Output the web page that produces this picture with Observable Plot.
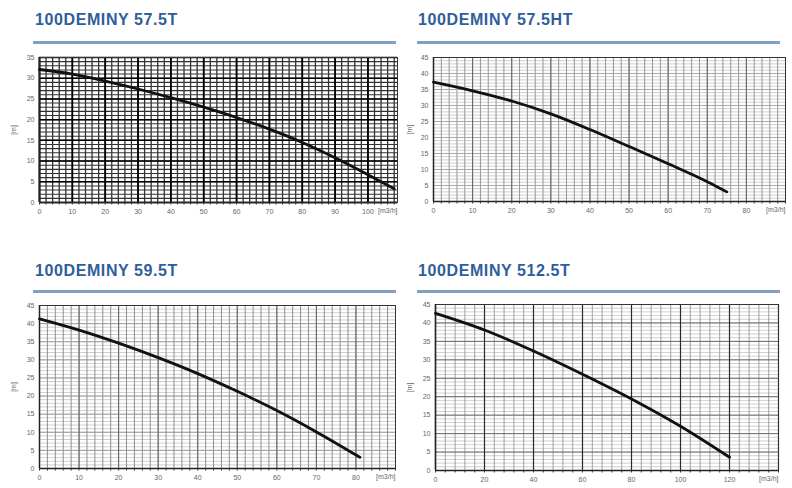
<!DOCTYPE html>
<html><head><meta charset="utf-8">
<script src="https://cdn.jsdelivr.net/npm/d3@7"></script>
<script src="https://cdn.jsdelivr.net/npm/@observablehq/plot@0.6"></script>
<style>
html,body{margin:0;padding:0;background:#fff}
body{width:792px;height:488px;position:relative;overflow:hidden;font-family:"Liberation Sans",Arial,sans-serif}
.title{position:absolute;font-weight:bold;font-size:16px;line-height:16px;letter-spacing:0.6px;color:#2f5e9c;white-space:nowrap}
.rule{position:absolute;height:3px;background:#809fc1}
.panel{position:absolute}
.panel svg{display:block}
</style></head><body>
<script>
// ---- data ----
const panelTitles = ["100DEMINY 57.5T", "100DEMINY 57.5HT", "100DEMINY 59.5T", "100DEMINY 512.5T"];

const flow575T = [0, 10, 20, 30, 40, 50, 60, 70, 80, 90, 100, 108];
const head575T = [32.1, 31.0, 29.3, 27.4, 25.3, 23.0, 20.5, 17.7, 14.5, 10.8, 6.7, 3.3];

const flow575HT = [0, 10, 20, 30, 40, 50, 60, 70, 75];
const head575HT = [37.3, 34.6, 31.4, 27.4, 22.5, 17.2, 11.8, 6.2, 3.0];

const flow595T = [0, 10, 20, 30, 40, 50, 60, 70, 81];
const head595T = [41.3, 38.2, 34.6, 30.6, 26.2, 21.3, 16.0, 10.1, 3.1];

const flow5125T = [0, 20, 40, 60, 80, 100, 120];
const head5125T = [42.6, 38.1, 32.4, 26.1, 19.4, 12.0, 3.6];

const xTicks575T = [0, 10, 20, 30, 40, 50, 60, 70, 80, 90, 100];
const yTicks575T = [0, 5, 10, 15, 20, 25, 30, 35];
const xTicks575HT = [0, 10, 20, 30, 40, 50, 60, 70, 80];
const xTicks595T = [0, 10, 20, 30, 40, 50, 60, 70, 80];
const xTicks5125T = [0, 20, 40, 60, 80, 100, 120];
const yTicks45 = [0, 5, 10, 15, 20, 25, 30, 35, 40, 45];

const yLabel = "[m]";
const xLabel = "[m3/h]";

// ---- layout / style ----
const panels = [
  {title: panelTitles[0], flow: flow575T, head: head575T, xTicks: xTicks575T, yTicks: yTicks575T,
   left: 0, top: 45, w: 400, h: 185, mL: 39, mR: 3, mT: 12, mB: 28, xMax: 109, yMax: 35,
   minorXStep: 2, majorXStep: 10, minorYStep: 1, majorYStep: 5,
   minorX: {stroke: "#333", w: 1.3}, majorX: {stroke: "#000", w: 1.8},
   minorY: {stroke: "#333", w: 1.1}, majorY: {stroke: "#000", w: 1.5},
   titleX: 35, titleY: 12, ruleX: 33, ruleW: 363, ruleY: 41},
  {title: panelTitles[1], flow: flow575HT, head: head575HT, xTicks: xTicks575HT, yTicks: yTicks45,
   left: 396, top: 45, w: 396, h: 185, mL: 37, mR: 7, mT: 12, mB: 29, xMax: 90, yMax: 45,
   minorXStep: 2, majorXStep: 10, minorYStep: 1, majorYStep: 5,
   minorX: {stroke: "#8a8a8a", w: 0.9}, majorX: {stroke: "#666", w: 1},
   minorY: {stroke: "#c6c0c0", w: 0.8}, majorY: {stroke: "#a8a2a2", w: 0.9},
   titleX: 418, titleY: 12, ruleX: 417, ruleW: 363, ruleY: 41},
  {title: panelTitles[2], flow: flow595T, head: head595T, xTicks: xTicks595T, yTicks: yTicks45,
   left: 0, top: 293, w: 400, h: 195, mL: 39, mR: 5, mT: 12, mB: 20, xMax: 90, yMax: 45,
   minorXStep: 2, majorXStep: 10, minorYStep: 1, majorYStep: 5,
   minorX: {stroke: "#858585", w: 0.9}, majorX: {stroke: "#666", w: 1},
   minorY: {stroke: "#c2c2c2", w: 0.8}, majorY: {stroke: "#999", w: 0.9},
   titleX: 35, titleY: 263, ruleX: 33, ruleW: 363, ruleY: 290},
  {title: panelTitles[3], flow: flow5125T, head: head5125T, xTicks: xTicks5125T, yTicks: yTicks45,
   left: 396, top: 293, w: 396, h: 195, mL: 39, mR: 14, mT: 11, mB: 18, xMax: 140, yMax: 45,
   minorXStep: 4, majorXStep: 20, minorYStep: 1, majorYStep: 5,
   minorX: {stroke: "#8a8a8a", w: 0.8}, majorX: {stroke: "#2a2a2a", w: 1.2},
   minorY: {stroke: "#c4c4c4", w: 0.8}, majorY: {stroke: "#6a6a6a", w: 1},
   titleX: 418, titleY: 263, ruleX: 417, ruleW: 363, ruleY: 290}
];

for (const p of panels) {
  const t = document.createElement("div");
  t.className = "title"; t.textContent = p.title;
  t.style.left = p.titleX + "px"; t.style.top = p.titleY + "px";
  document.body.appendChild(t);
  const r = document.createElement("div");
  r.className = "rule";
  r.style.left = p.ruleX + "px"; r.style.top = p.ruleY + "px"; r.style.width = p.ruleW + "px";
  document.body.appendChild(r);

  const data = p.flow.map((q, i) => ({q, h: p.head[i]}));
  const minorXs = d3.range(0, p.xMax + 1e-6, p.minorXStep);
  const majorXs = d3.range(0, p.xMax + 1e-6, p.majorXStep);
  const minorYs = d3.range(0, p.yMax + 1e-6, p.minorYStep);
  const majorYs = d3.range(0, p.yMax + 1e-6, p.majorYStep);

  const chart = Plot.plot({
    width: p.w, height: p.h,
    marginLeft: p.mL, marginRight: p.mR, marginTop: p.mT, marginBottom: p.mB,
    style: {fontFamily: "'Liberation Sans', Arial, sans-serif", fontSize: "7px", color: "#666", background: "transparent"},
    x: {domain: [0, p.xMax], label: null},
    y: {domain: [0, p.yMax], label: null},
    marks: [
      Plot.gridY(minorYs, {stroke: p.minorY.stroke, strokeOpacity: 1, strokeWidth: p.minorY.w}),
      Plot.gridX(minorXs, {stroke: p.minorX.stroke, strokeOpacity: 1, strokeWidth: p.minorX.w}),
      Plot.gridY(majorYs, {stroke: p.majorY.stroke, strokeOpacity: 1, strokeWidth: p.majorY.w}),
      Plot.gridX(majorXs, {stroke: p.majorX.stroke, strokeOpacity: 1, strokeWidth: p.majorX.w}),
      Plot.frame({stroke: "#333", strokeWidth: 1}),
      Plot.ruleY([0], {stroke: "#222", strokeWidth: 1.5}),
      Plot.ruleX([0], {stroke: "#222", strokeWidth: 1.5}),
      Plot.axisY(p.yTicks, {tickSize: 0, tickPadding: 5, label: yLabel, labelAnchor: "center", labelArrow: "none", labelOffset: p.mL - 11, fill: "#666"}),
      Plot.axisX(minorXs, {tickSize: 2.5, tickFormat: () => "", stroke: "#333", label: null}),
      Plot.axisX(p.xTicks, {tickSize: 0, tickPadding: 7, label: null, fill: "#666"}),
      Plot.text([xLabel], {frameAnchor: "bottom-right", text: d => d, dy: 10, textAnchor: "end", fill: "#666"}),
      Plot.line(data, {x: "q", y: "h", curve: "monotone-x", stroke: "#111", strokeWidth: 2.8})
    ]
  });
  const holder = document.createElement("div");
  holder.className = "panel";
  holder.style.left = p.left + "px"; holder.style.top = p.top + "px";
  holder.appendChild(chart);
  document.body.appendChild(holder);
}
</script>
</body></html>
